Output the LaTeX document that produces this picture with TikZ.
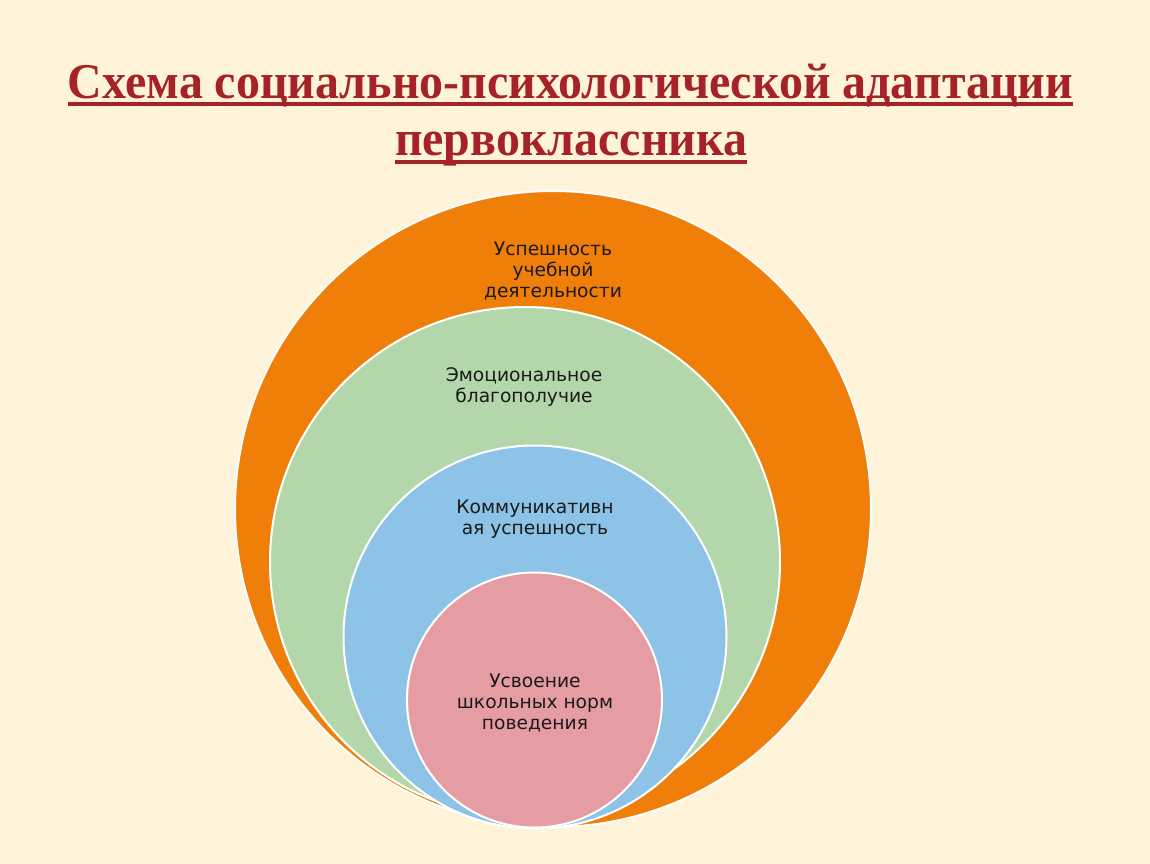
\documentclass[tikz,border=0pt]{standalone}
\usepackage{graphicx}
\usepackage{fontspec}
\newfontfamily\titlefont{Liberation Serif}
\newfontfamily\lblfont{DejaVu Sans}
\definecolor{bgcol}{HTML}{FFF3D9}
\definecolor{titlecol}{HTML}{A52327}
\definecolor{orangecol}{HTML}{EF7F09}
\definecolor{greencol}{HTML}{B4D6AB}
\definecolor{bluecol}{HTML}{8CC3E7}
\definecolor{pinkcol}{HTML}{E59CA3}
\definecolor{txtcol}{HTML}{1A1A1A}
\begin{document}
\begin{tikzpicture}[x=0.75pt,y=-0.75pt,
  ring/.style={circle,draw=white,line width=1.5pt,inner sep=0pt},
  ttl/.style={inner sep=0pt,anchor=base,text=titlecol,font=\titlefont\bfseries\fontsize{37.5pt}{45pt}\selectfont},
  lbl/.style={inner sep=0pt,anchor=base,align=center,text=txtcol,font=\lblfont\fontsize{14pt}{15.75pt}\selectfont}]
\fill[bgcol] (0,0) rectangle (1150,864);
\useasboundingbox (0,0) rectangle (1150,864);
% title
\node[ttl] (t1) at (570.5,98) {\resizebox{753.75pt}{\height}{Схема социально-психологической адаптации}};
\node[ttl] (t2) at (571,155) {\resizebox{264pt}{\height}{первоклассника}};
\fill[titlecol] ([yshift=-3pt]t1.base west) rectangle ([yshift=-6pt]t1.base east);
\fill[titlecol] ([yshift=-3.75pt]t2.base west) rectangle ([yshift=-6.4pt]t2.base east);
% circles
\node[ring,fill=orangecol,minimum size=477pt] (c1) at (553,509) {};
\node[ring,fill=greencol,minimum size=382.5pt] (c2) at (525,562) {};
\node[ring,fill=bluecol,minimum size=287.25pt] (c3) at (535,637) {};
\node[ring,fill=pinkcol,minimum size=191.25pt] (c4) at (534.5,700) {};
% labels
\node[lbl] (l1) at (553,297) {Успешность\\учебной\\деятельности};
\node[lbl] (l2) at (524,402) {Эмоциональное\\благополучие};
\node[lbl] (l3) at (535,534) {Коммуникативн\\ая успешность};
\node[lbl] (l4) at (535,729) {Усвоение\\школьных норм\\поведения};
\end{tikzpicture}
\end{document}
